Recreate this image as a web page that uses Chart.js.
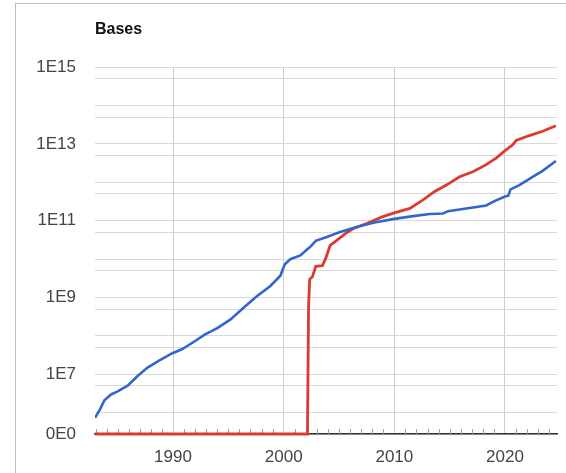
<!DOCTYPE html>
<html>
<head>
<meta charset="utf-8">
<script src="https://cdn.jsdelivr.net/npm/chart.js@4"></script>
<style>
  html, body { margin: 0; padding: 0; background: #fff; overflow: hidden; }
  #frame { position: absolute; left: 15px; top: 3px; width: 620px; height: 520px; border: 1px solid #bdbdbd; }
  #wrap { position: absolute; left: 0; top: 0; width: 566px; height: 473px; }
</style>
</head>
<body>
<div id="frame"></div>
<div id="wrap"><canvas id="myChart"></canvas></div>
<script>
// GenBank (blue) and WGS (red) base counts
let gbYears = [1982.95, 1983.4, 1983.8, 1984.4, 1985.0, 1985.9, 1986.8, 1987.7, 1988.7, 1989.9,
  1990.8, 1992.0, 1992.9, 1994.0, 1995.2, 1996.4, 1997.6, 1998.8, 1999.7, 2000.1,
  2000.6, 2001.5, 2002.4, 2002.9, 2003.9, 2005.1, 2006.6, 2008.1, 2010.0, 2011.7,
  2013.2, 2014.4, 2014.85, 2016.5, 2018.3, 2019.0, 2020.0, 2020.3, 2020.5, 2021.3,
  2022.5, 2023.4, 2024.6];
let gbBases = [7.4e5, 1.23e6, 2.1e6, 3.0e6, 3.6e6, 5.1e6, 9.1e6, 1.5e7, 2.25e7, 3.5e7,
  4.5e7, 7.4e7, 1.1e8, 1.6e8, 2.7e8, 5.5e8, 1.1e9, 2.0e9, 3.7e9, 7.4e9,
  1.0e10, 1.25e10, 2.1e10, 3.0e10, 3.8e10, 5.1e10, 6.9e10, 8.9e10, 1.12e11, 1.32e11,
  1.5e11, 1.55e11, 1.78e11, 2.1e11, 2.5e11, 3.2e11, 4.3e11, 4.5e11, 6.6e11, 8.5e11,
  1.4e12, 2.0e12, 3.6e12];

let wgsYears = [1982.95, 2002.15, 2002.25, 2002.35, 2002.6, 2002.9, 2003.5, 2003.8, 2004.2, 2004.8,
  2005.6, 2006.3, 2007.5, 2008.9, 2010.0, 2011.4, 2012.6, 2013.65, 2014.7, 2015.9,
  2017.1, 2018.3, 2019.2, 2019.95, 2020.7, 2021.0, 2022.2, 2023.4, 2024.6];
let wgsBases = [0, 0, 6e8, 3e9, 3.5e9, 6.5e9, 6.8e9, 1.05e10, 2.3e10, 3.1e10,
  4.7e10, 6.3e10, 8.5e10, 1.26e11, 1.6e11, 2.1e11, 3.5e11, 5.8e11, 8.5e11, 1.4e12,
  1.9e12, 2.9e12, 4.3e12, 6.5e12, 9.5e12, 1.23e13, 1.66e13, 2.14e13, 3.0e13];

let yearLabels = [1990, 2000, 2010, 2020];
let baseLabels = [1e7, 1e9, 1e11, 1e13, 1e15];
let baseGrid = [1e6, 5e6, 1e7, 5e7, 1e8, 5e8, 1e9, 5e9, 1e10, 5e10, 1e11, 5e11,
  1e12, 5e12, 1e13, 5e13, 1e14, 5e14, 1e15];
let yFloor = 2.8e5; // where 0E0 sits on the log axis

// zero can't go on a log axis, so it is drawn on the 0E0 floor
function toPoints(xs, ys) {
  return xs.map((x, i) => ({ x: x, y: ys[i] > 0 ? ys[i] : yFloor }));
}

const yearMarks = {
  id: 'yearMarks',
  beforeDatasetsDraw(chart) {
    const c = chart.ctx, xs = chart.scales.x, b = chart.chartArea.bottom;
    c.save();
    c.strokeStyle = '#9a9a9a';
    c.lineWidth = 1;
    xs.ticks.forEach(t => {
      if (t.value % 10 === 0) return;
      const px = Math.round(xs.getPixelForValue(t.value)) + 0.5;
      c.beginPath();
      c.moveTo(px, b);
      c.lineTo(px, b - 5);
      c.stroke();
    });
    c.restore();
  }
};

Chart.defaults.font.family = '"Liberation Sans", Arial, sans-serif';
Chart.defaults.font.size = 17;
Chart.defaults.color = '#444';

let ctx = document.getElementById('myChart');
let myChart = new Chart(ctx, {
  type: 'line',
  data: {
    datasets: [{
      label: 'GenBank',
      data: toPoints(gbYears, gbBases),
      borderColor: '#3366cc',
      borderWidth: 2.6,
      pointRadius: 0,
      tension: 0
    }, {
      label: 'WGS',
      data: toPoints(wgsYears, wgsBases),
      borderColor: '#db3b2e',
      borderWidth: 2.8,
      pointRadius: 0,
      tension: 0,
      clip: false
    }]
  },
  options: {
    responsive: true,
    maintainAspectRatio: false,
    animation: false,
    layout: { padding: { top: 14, right: 9, bottom: 0, left: 0 } },
    plugins: {
      legend: { display: false },
      tooltip: { enabled: false },
      title: {
        display: true,
        text: 'Bases',
        align: 'start',
        fullSize: false,
        color: '#111',
        font: { size: 16, weight: 'bold' },
        padding: { top: 6, bottom: 28 }
      }
    },
    scales: {
      x: {
        type: 'linear',
        min: 1982.95,
        max: 2024.7,
        afterBuildTicks: s => {
          let t = [];
          for (let y = 1983; y <= 2024; y++) t.push({ value: y });
          s.ticks = t;
        },
        afterFit: s => { s.height = 39; },
        ticks: {
          autoSkip: false,
          maxRotation: 0,
          padding: 13,
          callback: v => yearLabels.includes(v) ? String(v) : ''
        },
        grid: {
          drawTicks: false,
          color: c => (c.tick && yearLabels.includes(c.tick.value)) ? '#cccccc' : 'rgba(0,0,0,0)'
        },
        border: { display: true, color: '#333', width: 1.5 }
      },
      y: {
        type: 'logarithmic',
        min: yFloor,
        max: 1e15,
        afterBuildTicks: s => {
          s.ticks = [yFloor].concat(baseGrid).map(v => ({ value: v }));
        },
        afterFit: s => { s.width = 95; },
        ticks: {
          autoSkip: false,
          padding: 19,
          callback: v => {
            if (v === yFloor) return '0E0';
            if (baseLabels.includes(v)) return '1E' + Math.round(Math.log10(v));
            return '';
          }
        },
        grid: {
          drawTicks: false,
          color: '#d9d9d9'
        },
        border: { display: false }
      }
    }
  },
  plugins: [yearMarks]
});
</script>
</body>
</html>
